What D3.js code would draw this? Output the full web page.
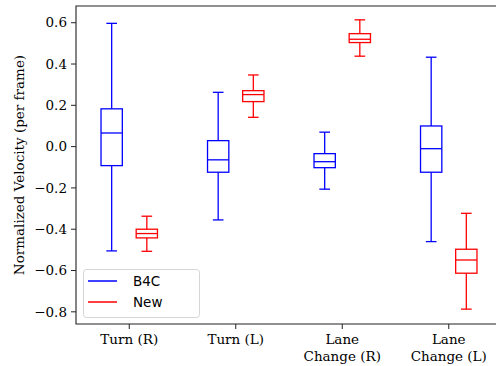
<!DOCTYPE html>
<html lang="en">
    <head>
        <meta charset="UTF-8" />
        <title>Normalized Velocity Box Plot</title>
        <style>
            body {
                margin: 0;
                background: #fff;
            }
            svg {
                display: block;
            }
            .tickText {
                font-family: "DejaVu Serif", "Liberation Serif", serif;
                font-size: 13.5px;
                fill: #000;
            }
            .legendText {
                font-family: "DejaVu Sans", sans-serif;
                font-size: 13.5px;
                fill: #000;
            }
            .spine {
                stroke: #222;
                stroke-width: 1.1px;
                fill: none;
            }
        </style>
    </head>
    <body>
        <script src="https://cdnjs.cloudflare.com/ajax/libs/d3/7.9.0/d3.min.js"></script>
        <svg width="496" height="366"></svg>
        <script>
            // categories on the x axis (\n = line break)
            const categories = ["Turn (R)", "Turn (L)", "Lane\nChange (R)", "Lane\nChange (L)"];
            // [lower whisker, q1, median, q3, upper whisker]
            const b4cBoxes = [
                [-0.505, -0.092, 0.066, 0.183, 0.597],
                [-0.355, -0.124, -0.064, 0.029, 0.263],
                [-0.206, -0.102, -0.073, -0.034, 0.07],
                [-0.46, -0.124, -0.01, 0.1, 0.433],
            ];
            const newBoxes = [
                [-0.507, -0.442, -0.421, -0.4, -0.337],
                [0.142, 0.218, 0.252, 0.271, 0.347],
                [0.438, 0.504, 0.52, 0.547, 0.614],
                [-0.787, -0.613, -0.549, -0.497, -0.323],
            ];
            const yTicks = [-0.8, -0.6, -0.4, -0.2, 0.0, 0.2, 0.4, 0.6];
            const seriesNames = ["B4C", "New"];
            const seriesColors = ["#0000ff", "#ff0000"];

            const margin = { top: 6, left: 76 };
            const plotRight = 502; // right spine falls just outside the window
            const plotBottom = 324;

            const svg = d3.select("svg");

            const x = d3.scaleLinear().domain([0.5, 4.5]).range([margin.left, plotRight]);
            const y = d3.scaleLinear().domain([-0.859, 0.681]).range([plotBottom, margin.top]);

            const offset = 0.165;
            const boxWidth = 0.2;

            const drawSeries = (boxes, color, shift) => {
                const g = svg.append("g").attr("stroke", color).attr("stroke-width", 1.3).attr("fill", "none");
                boxes.forEach((b, i) => {
                    const cx = x(i + 1 + shift);
                    const half = (x(boxWidth) - x(0)) / 2;
                    const [lo, q1, med, q3, hi] = b;
                    // whiskers
                    g.append("line").attr("x1", cx).attr("x2", cx).attr("y1", y(q1)).attr("y2", y(lo));
                    g.append("line").attr("x1", cx).attr("x2", cx).attr("y1", y(q3)).attr("y2", y(hi));
                    // caps
                    g.append("line").attr("x1", cx - half / 2).attr("x2", cx + half / 2).attr("y1", y(lo)).attr("y2", y(lo));
                    g.append("line").attr("x1", cx - half / 2).attr("x2", cx + half / 2).attr("y1", y(hi)).attr("y2", y(hi));
                    // box
                    g.append("rect")
                        .attr("x", cx - half)
                        .attr("y", y(q3))
                        .attr("width", half * 2)
                        .attr("height", y(q1) - y(q3));
                    // median
                    g.append("line").attr("x1", cx - half).attr("x2", cx + half).attr("y1", y(med)).attr("y2", y(med));
                });
            };

            drawSeries(b4cBoxes, seriesColors[0], -offset);
            drawSeries(newBoxes, seriesColors[1], offset);

            // spines
            svg.append("path")
                .attr("class", "spine")
                .attr("d", `M${plotRight},${margin.top}H${margin.left}V${plotBottom}H${plotRight}`);

            // y axis
            const yAxis = svg.append("g");
            yTicks.forEach((t) => {
                yAxis.append("line")
                    .attr("x1", margin.left - 5)
                    .attr("x2", margin.left)
                    .attr("y1", y(t))
                    .attr("y2", y(t))
                    .attr("stroke", "#222")
                    .attr("stroke-width", 1);
                yAxis.append("text")
                    .attr("class", "tickText")
                    .attr("x", margin.left - 9)
                    .attr("y", y(t))
                    .attr("dy", "0.35em")
                    .attr("text-anchor", "end")
                    .text(d3.format(".1f")(t).replace("-", "\u2212"));
            });

            // x axis
            const xAxis = svg.append("g");
            categories.forEach((c, i) => {
                const cx = x(i + 1);
                xAxis.append("line")
                    .attr("x1", cx)
                    .attr("x2", cx)
                    .attr("y1", plotBottom)
                    .attr("y2", plotBottom + 5)
                    .attr("stroke", "#222")
                    .attr("stroke-width", 1);
                const text = xAxis.append("text").attr("class", "tickText").attr("text-anchor", "middle");
                c.split("\n").forEach((line, j) => {
                    text.append("tspan")
                        .attr("x", cx)
                        .attr("y", plotBottom + 20 + j * 16.5)
                        .text(line);
                });
            });

            // y label
            svg.append("text")
                .attr("class", "tickText")
                .attr("transform", `translate(24,${(margin.top + plotBottom) / 2}) rotate(-90)`)
                .attr("text-anchor", "middle")
                .text("Normalized Velocity (per frame)");

            // legend
            const legend = svg.append("g").attr("transform", "translate(83,269)");
            legend.append("rect")
                .attr("x", 0.5)
                .attr("y", 0.5)
                .attr("width", 116)
                .attr("height", 48)
                .attr("rx", 3)
                .attr("fill", "#fff")
                .attr("fill-opacity", 0.8)
                .attr("stroke", "#d5d5d5");
            seriesNames.forEach((name, i) => {
                const ly = 12 + i * 21;
                legend.append("line")
                    .attr("x1", 5)
                    .attr("x2", 34)
                    .attr("y1", ly)
                    .attr("y2", ly)
                    .attr("stroke", seriesColors[i])
                    .attr("stroke-width", 1.5);
                legend.append("text")
                    .attr("class", "legendText")
                    .attr("x", 50)
                    .attr("y", ly)
                    .attr("dy", "0.35em")
                    .text(name);
            });
        </script>
    </body>
</html>
